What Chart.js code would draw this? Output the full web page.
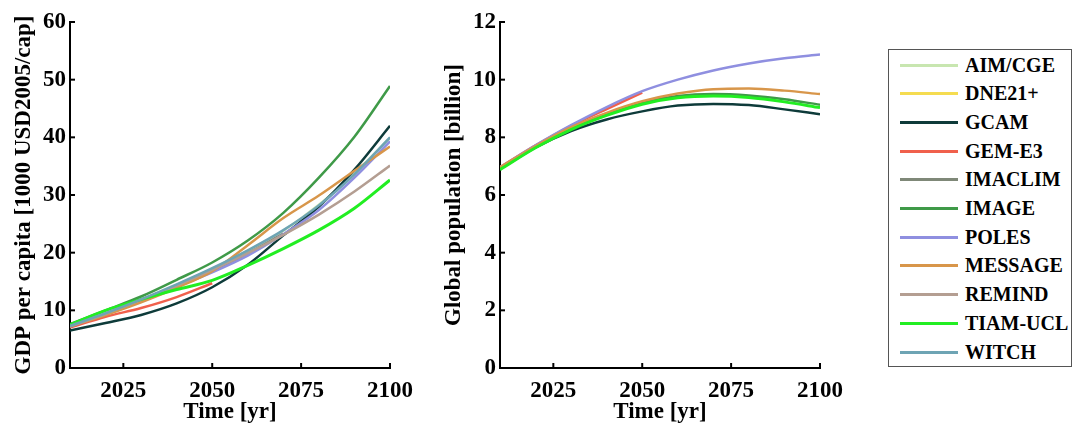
<!DOCTYPE html>
<html>
<head>
<meta charset="utf-8">
<script src="https://cdn.jsdelivr.net/npm/chart.js@4.4.1/dist/chart.umd.min.js"></script>
<style>
  body { margin: 0; background: #fff; width: 1076px; height: 427px; overflow: hidden; position: relative; font-family: "Liberation Serif", serif; }
  .chart-box { position: absolute; top: 0; width: 440px; height: 427px; }
  #gdpBox { left: 0; }
  #popBox { left: 430px; }
  .legend-box { position: absolute; left: 888px; top: 49px; width: 184px; height: 318px; border: 1px solid #555; box-sizing: border-box; background: #fff; }
  .legend-item { position: absolute; left: 0; height: 20px; display: flex; align-items: center; }
  .legend-line { width: 58px; height: 3px; margin-left: 11px; margin-right: 7px; }
  .legend-label { font-weight: bold; font-size: 20px; color: #000; white-space: nowrap; }
</style>
</head>
<body>
<div class="chart-box" id="gdpBox"><canvas id="gdpChart" width="440" height="427"></canvas></div>
<div class="chart-box" id="popBox"><canvas id="popChart" width="440" height="427"></canvas></div>
<div class="legend-box" id="legendBox"></div>

<script>
const years = [2010, 2020, 2030, 2040, 2050, 2060, 2070, 2080, 2090, 2100];
const xTicks = [2025, 2050, 2075, 2100];
const gdpTicks = [0, 10, 20, 30, 40, 50, 60];
const popTicks = [0, 2, 4, 6, 8, 10, 12];

const models = ['AIM/CGE', 'DNE21+', 'GCAM', 'GEM-E3', 'IMACLIM', 'IMAGE', 'POLES', 'MESSAGE', 'REMIND', 'TIAM-UCL', 'WITCH'];
const colors = ['#c8e6b0', '#f5dc50', '#0e3b3a', '#f0604c', '#7f8878', '#3f9a48', '#8f8fe0', '#d8964a', '#b49e92', '#22ee22', '#6ea4b4'];

// GDP per capita [1000 USD2005/cap]
const aimGdp = [7.2, 9.3, 11.7, 14.4, 17.2, 20.3, 23.8, 28.3, 33.8, 39.9];
const dneGdp = [null, null, null, null, null, null, null, null, null, null];
const gcamGdp = [6.5, 7.8, 9.2, 11.2, 14.0, 17.9, 23.0, 28.0, 34.4, 42.0];
const gemGdp = [7.0, 8.9, 10.4, 12.3, 14.7, null, null, null, null, null];
const imaclimGdp = [7.2, 9.4, 11.8, 14.3, 16.8, 19.9, 23.3, null, null, null];
const imageGdp = [7.6, 10.0, 12.4, 15.3, 18.3, 22.1, 26.9, 33.0, 40.1, 48.9];
const polesGdp = [7.3, 9.4, 11.7, 14.1, 16.6, 19.5, 23.2, 27.4, 33.0, 39.3];
const messageGdp = [7.2, 9.2, 11.4, 13.9, 16.8, 21.3, 26.0, 29.9, 34.2, 38.4];
const remindGdp = [7.2, 9.4, 11.8, 14.3, 17.0, 19.9, 23.1, 26.6, 30.6, 35.1];
const tiamGdp = [7.5, 10.0, 11.9, 13.6, 15.2, 17.8, 20.7, 23.9, 27.7, 32.6];
const witchGdp = [7.3, 9.5, 11.9, 14.5, 17.3, 20.4, 23.9, 28.2, 33.6, 40.0];

// Global population [billion]
const aimPop = [null, null, null, null, null, null, null, null, null, null];
const dnePop = [null, null, null, null, null, null, null, null, null, null];
const gcamPop = [6.9, 7.65, 8.22, 8.62, 8.9, 9.1, 9.16, 9.12, 8.97, 8.8];
const gemPop = [6.96, 7.72, 8.4, 8.98, 9.55, null, null, null, null, null];
const imaclimPop = [null, null, null, null, null, null, null, null, null, null];
const imagePop = [6.9, 7.66, 8.3, 8.8, 9.2, 9.43, 9.5, 9.45, 9.32, 9.13];
const polesPop = [6.96, 7.72, 8.42, 9.05, 9.6, 10.0, 10.32, 10.56, 10.74, 10.87];
const messagePop = [6.96, 7.7, 8.35, 8.85, 9.25, 9.52, 9.67, 9.69, 9.62, 9.5];
const remindPop = [null, null, null, null, null, null, null, null, null, null];
const tiamPop = [6.88, 7.64, 8.27, 8.76, 9.15, 9.37, 9.43, 9.38, 9.23, 9.03];
const witchPop = [null, null, null, null, null, null, null, null, null, null];

const gdpSeries = [aimGdp, dneGdp, gcamGdp, gemGdp, imaclimGdp, imageGdp, polesGdp, messageGdp, remindGdp, tiamGdp, witchGdp];
const popSeries = [aimPop, dnePop, gcamPop, gemPop, imaclimPop, imagePop, polesPop, messagePop, remindPop, tiamPop, witchPop];

const FONT = 'Liberation Serif';
const axisFont = { family: FONT, size: 23, weight: 'bold' };

// small inward tick marks on the left and bottom axes
const inwardTicks = {
  id: 'inwardTicks',
  afterDraw(chart) {
    const { ctx, scales: { x, y } } = chart;
    ctx.save();
    ctx.strokeStyle = '#000';
    ctx.lineWidth = 2;
    x.ticks.forEach(t => {
      const px = x.getPixelForValue(t.value);
      ctx.beginPath(); ctx.moveTo(px, y.bottom); ctx.lineTo(px, y.bottom - 5); ctx.stroke();
    });
    y.ticks.forEach(t => {
      const py = y.getPixelForValue(t.value);
      ctx.beginPath(); ctx.moveTo(x.left, py); ctx.lineTo(x.left + 5, py); ctx.stroke();
    });
    ctx.restore();
  }
};

function buildChart(id, series, yTicks, yTitle) {
  const datasets = series.map((vals, i) => ({
    label: models[i],
    data: years.map((yr, j) => ({ x: yr, y: vals[j] })),
    borderColor: colors[i],
    borderWidth: models[i] === 'TIAM-UCL' ? 3 : 2.5,
    pointRadius: 0,
    cubicInterpolationMode: 'monotone',
    fill: false,
    order: models.length - i
  }));

  return new Chart(document.getElementById(id), {
    type: 'line',
    data: { datasets },
    options: {
      responsive: false, animation: false,
      layout: { padding: { top: 22, right: 50, left: 0, bottom: 0 } },
      plugins: { legend: { display: false }, tooltip: { enabled: false } },
      scales: {
        x: {
          type: 'linear', min: 2010, max: 2100,
          afterBuildTicks: s => { s.ticks = xTicks.map(v => ({ value: v })); },
          afterFit: s => { s.height = 59; s.paddingLeft = 0; s.paddingRight = 0; },
          grid: { display: false, drawTicks: false, tickLength: 0 },
          border: { display: true, color: '#000', width: 2 },
          ticks: { padding: 9, maxRotation: 0, color: '#000', font: axisFont, callback: v => String(v) },
          title: { display: true, text: 'Time [yr]', color: '#000', padding: { top: 0, bottom: 1 }, font: axisFont }
        },
        y: {
          min: yTicks[0], max: yTicks[yTicks.length - 1],
          afterBuildTicks: s => { s.ticks = yTicks.map(v => ({ value: v })); },
          afterFit: s => { s.width = 70; s.paddingTop = 0; s.paddingBottom = 0; },
          grid: { display: false, drawTicks: false, tickLength: 0 },
          border: { display: true, color: '#000', width: 2 },
          ticks: { padding: 4, color: '#000', font: axisFont },
          title: { display: true, text: yTitle, color: '#000', padding: { top: 10, bottom: 0 }, font: axisFont }
        }
      }
    },
    plugins: [inwardTicks]
  });
}

buildChart('gdpChart', gdpSeries, gdpTicks, 'GDP per capita [1000 USD2005/cap]');
buildChart('popChart', popSeries, popTicks, 'Global population [billion]');

// legend
const legendBox = document.getElementById('legendBox');
legendBox.innerHTML = models.map((m, i) => `
  <div class="legend-item" style="top:${5 + i * 28.7}px">
    <div class="legend-line" style="background:${colors[i]}"></div>
    <div class="legend-label">${m}</div>
  </div>
`).join('');
</script>
</body>
</html>
